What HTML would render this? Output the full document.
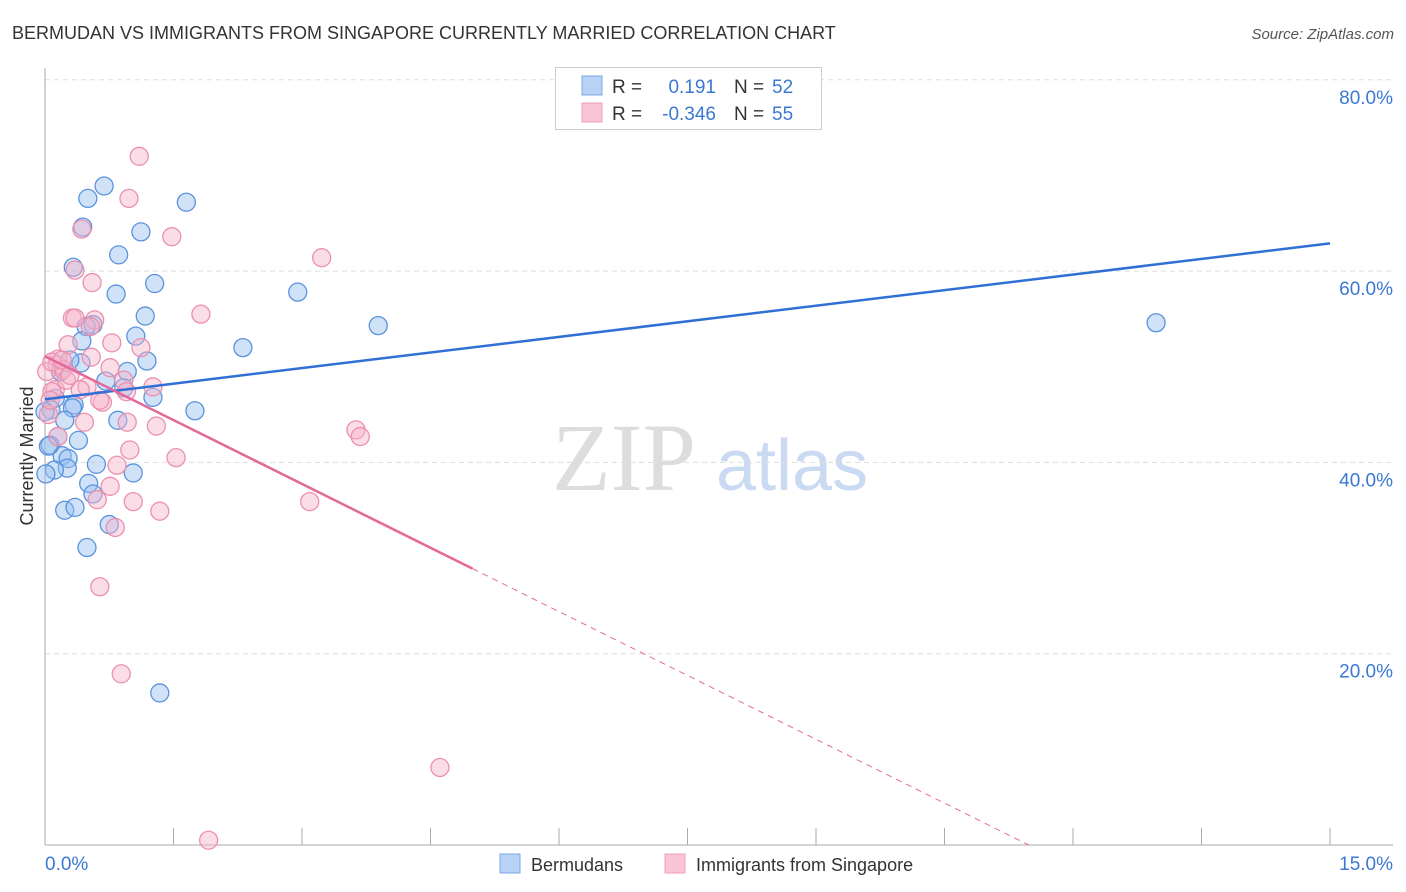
<!DOCTYPE html>
<html><head><meta charset="utf-8"><style>
body{margin:0;background:#fff;font-family:"Liberation Sans",sans-serif;}
svg{display:block}
</style></head><body>
<svg id="chart" width="1406" height="892" xmlns="http://www.w3.org/2000/svg" font-family="Liberation Sans, sans-serif">
<text x="12" y="39" font-size="18" fill="#333">BERMUDAN VS IMMIGRANTS FROM SINGAPORE CURRENTLY MARRIED CORRELATION CHART</text>
<text x="1394" y="39" font-size="15" fill="#555" text-anchor="end" font-style="italic">Source: ZipAtlas.com</text>
<g>
<text x="552" y="490" font-size="96" fill="#ddd" font-family="Liberation Serif, serif">ZIP</text>
<text x="716" y="490" font-size="72" fill="#c9daf2">atlas</text>
</g>
<g id="grid"></g>
<g id="axes"></g>
<g id="points"></g>
<g id="lines"></g>
<text transform="translate(33,456) rotate(-90)" font-size="18" fill="#333" text-anchor="middle">Currently Married</text>
<g>
<rect x="555.5" y="67.5" width="266" height="62" fill="#fff" stroke="#ccc"/>
<rect x="582" y="76" width="20" height="19" fill="#b7d2f5" stroke="#7aa8e6"/>
<rect x="582" y="103" width="20" height="19" fill="#f9c4d4" stroke="#eea0b8"/>
<text x="612" y="93" font-size="19" fill="#333">R =</text>
<text x="716" y="93" font-size="19" fill="#3b78d4" text-anchor="end">0.191</text>
<text x="734" y="93" font-size="19" fill="#333">N =</text>
<text x="772" y="93" font-size="19" fill="#3b78d4">52</text>
<text x="612" y="120" font-size="19" fill="#333">R =</text>
<text x="716" y="120" font-size="19" fill="#3b78d4" text-anchor="end">-0.346</text>
<text x="734" y="120" font-size="19" fill="#333">N =</text>
<text x="772" y="120" font-size="19" fill="#3b78d4">55</text>
</g>
<g>
<rect x="500" y="854" width="20" height="19" fill="#b7d2f5" stroke="#7aa8e6"/>
<text x="531" y="871" font-size="18" fill="#333">Bermudans</text>
<rect x="665" y="854" width="20" height="19" fill="#f9c4d4" stroke="#eea0b8"/>
<text x="696" y="871" font-size="18" fill="#333">Immigrants from Singapore</text>
</g>
</svg>
<script>
const yTicks=[20,40,60,80];
const yTickLabels=["20.0%","40.0%","60.0%","80.0%"];
const xTickLabels=["0.0%","15.0%"];
const blueX=[0.69,0.50,1.65,0.44,1.12,0.86,0.33,1.28,0.83,2.95,1.17,3.89,12.97,0.56,0.48,0.43,1.06,2.31,1.19,0.42,0.29,0.96,0.18,0.71,0.92,0.12,1.26,0.07,0.34,0.32,1.75,0.85,0.23,0.39,0.15,0.06,0.20,0.60,0.27,0.26,0.11,0.01,1.03,0.51,0.56,0.23,0.35,0.75,0.49,1.34,0.0,0.04];
const blueY=[68.9,67.6,67.2,64.6,64.1,61.7,60.4,58.7,57.6,57.8,55.3,54.3,54.6,54.4,54.2,52.7,53.2,52.0,50.6,50.4,50.7,49.5,49.5,48.5,47.8,46.7,46.8,45.5,46.0,45.7,45.4,44.4,44.4,42.3,42.7,41.8,40.7,39.8,40.4,39.4,39.2,38.8,38.9,37.8,36.7,35.0,35.3,33.5,31.1,15.9,45.3,41.7];
const pinkX=[1.10,0.98,0.43,1.48,3.23,0.35,0.55,1.82,0.32,0.35,0.58,0.53,0.78,0.27,1.12,0.54,0.15,0.14,0.76,0.21,0.02,0.92,1.26,0.12,0.49,0.95,0.08,0.67,0.04,0.46,0.96,1.30,3.63,3.68,0.15,0.84,1.53,0.76,0.61,3.09,1.03,0.82,1.34,0.64,0.89,4.61,1.91,0.08,0.25,0.41,0.06,0.20,0.29,0.64,0.99];
const pinkY=[72.0,67.6,64.4,63.6,61.4,60.1,58.8,55.5,55.1,55.1,54.9,54.2,52.5,52.3,52.0,51.0,50.8,50.2,49.9,49.7,49.5,48.6,47.9,47.6,47.9,47.4,47.4,46.3,45.0,44.2,44.2,43.8,43.4,42.7,42.7,39.7,40.5,37.5,36.1,35.9,35.9,33.2,34.9,27.0,17.9,8.1,0.5,50.5,48.6,47.6,46.5,50.7,49.1,46.5,41.3];
const blueTrend=[46.6,62.9];
const pinkTrend=[51.1,-4.45,4.99];
const NS="http://www.w3.org/2000/svg";
const X=v=>45+v/15*1285, Y=v=>845-v/20*191.3;
function mk(t,a,p){const e=document.createElementNS(NS,t);for(const k in a)e.setAttribute(k,a[k]);p.appendChild(e);return e;}
const grid=document.getElementById('grid'),axes=document.getElementById('axes'),pts=document.getElementById('points'),lines=document.getElementById('lines');
yTicks.forEach((t,i)=>{
 const l=mk('line',{x1:45,x2:1393,y1:Y(t),y2:Y(t),stroke:'#ddd','stroke-dasharray':'5,4'},grid);
 
 
 const tx=mk('text',{x:1393,y:Y(t)+24,'font-size':19,fill:'#3b78d4','text-anchor':'end'},axes);
 tx.textContent=yTickLabels[i];
 
 
});
const ga=mk('line',{x1:1393,x2:1393,y1:80,y2:845,stroke:'#fff'},grid);
const la=mk('line',{x1:45,x2:45,y1:68,y2:845,stroke:'#aaa'},axes);


const ba=mk('line',{x1:45,x2:1393,y1:845,y2:845,stroke:'#aaa'},axes);


for(let i=1;i<=10;i++){const tk=mk('line',{x1:X(i*1.5),x2:X(i*1.5),y1:828,y2:845,stroke:'#aaa'},axes);
 
 }
const x0=mk('text',{x:45,y:870,'font-size':19,fill:'#3b78d4'},axes);x0.textContent=xTickLabels[0];


const x1=mk('text',{x:1393,y:870,'font-size':19,fill:'#3b78d4','text-anchor':'end'},axes);x1.textContent=xTickLabels[1];


blueX.forEach((v,i)=>{const c=mk('circle',{cx:X(v),cy:Y(blueY[i]),r:9,fill:'rgba(150,190,240,0.45)',stroke:'#5a93dc','stroke-width':1.3},pts);
 
 });
pinkX.forEach((v,i)=>{const c=mk('circle',{cx:X(v),cy:Y(pinkY[i]),r:9,fill:'rgba(246,180,202,0.45)',stroke:'#eb90ae','stroke-width':1.3},pts);
 
 });
const bl=mk('line',{x1:X(0),y1:Y(blueTrend[0]),x2:X(15),y2:Y(blueTrend[1]),stroke:'#2f6fd6','stroke-width':2.5},lines);


const pe=pinkTrend[2], pz=-pinkTrend[0]/pinkTrend[1];
const pl=mk('line',{x1:X(0),y1:Y(pinkTrend[0]),x2:X(pe),y2:Y(pinkTrend[0]+pinkTrend[1]*pe),stroke:'#e5689a','stroke-width':2.5},lines);


const pd=mk('line',{x1:X(pe),y1:Y(pinkTrend[0]+pinkTrend[1]*pe),x2:X(pz),y2:Y(0),stroke:'#e5689a','stroke-width':1,'stroke-dasharray':'6,5'},lines);


</script>
</body></html>
